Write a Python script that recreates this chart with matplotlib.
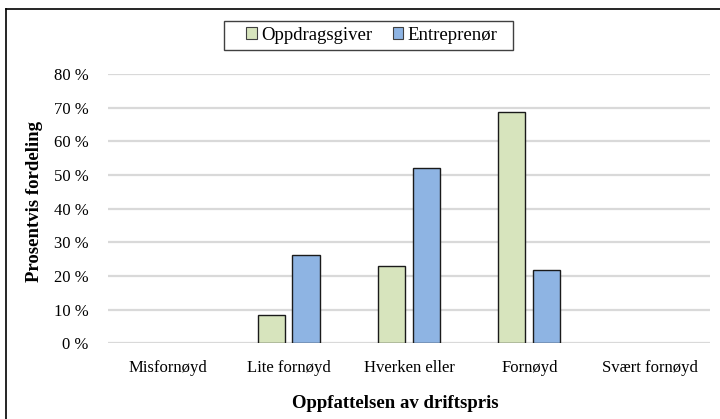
import numpy as np
import matplotlib.pyplot as plt
from matplotlib.lines import Line2D
from matplotlib.patches import Patch, Rectangle

plt.rcParams['font.family'] = ['Liberation Serif', 'DejaVu Serif']

categories = ['Misfornøyd', 'Lite fornøyd', 'Hverken eller', 'Fornøyd', 'Svært fornøyd']
oppdragsgiver = [0.0, 8.3, 22.9, 68.8, 0.0]
entreprenor = [0.0, 26.1, 52.2, 21.7, 0.0]
yticks = [0, 10, 20, 30, 40, 50, 60, 70, 80]

green = '#D7E4BD'
blue = '#8EB4E3'
edge = '#1a1a1a'

fig = plt.figure(figsize=(7.2, 4.19), dpi=100)
ax = fig.add_axes([0.15, 0.181, 0.836, 0.642])

x = np.arange(len(categories))
w = 0.225
# no outline on empty bars
lw_o = [1 if v > 0 else 0 for v in oppdragsgiver]
lw_e = [1 if v > 0 else 0 for v in entreprenor]
ax.bar(x - 0.145, oppdragsgiver, w, color=green, edgecolor=edge, linewidth=lw_o, zorder=3)
ax.bar(x + 0.145, entreprenor, w, color=blue, edgecolor=edge, linewidth=lw_e, zorder=3)

ax.set_xlim(-0.5, len(categories) - 0.5)
ax.set_ylim(0, 80)
ax.set_yticks(yticks)
ax.set_yticklabels(['{} %'.format(t) for t in yticks], fontsize=12)
ax.set_xticks(x)
ax.set_xticklabels(categories, fontsize=12)
ax.tick_params(axis='x', length=0, pad=12)
ax.tick_params(axis='y', length=0, pad=14)
ax.grid(axis='y', color='#D9D9D9', linewidth=1.6, zorder=0)
for s in ax.spines.values():
    s.set_visible(False)

ax.set_ylabel('Prosentvis fordeling', fontsize=13.5, fontweight='bold')
ax.yaxis.set_label_coords(35 / 720, 1 - 201 / 419, transform=fig.transFigure)
ax.set_xlabel('Oppfattelsen av driftspris', fontsize=13.5, fontweight='bold')
ax.xaxis.set_label_coords(395 / 720, 1 - 403 / 419, transform=fig.transFigure)
ax.xaxis.label.set_va('center')
ax.yaxis.label.set_va('center')

handles = [Patch(facecolor=green, edgecolor='#404040', linewidth=0.8, label='Oppdragsgiver'),
           Patch(facecolor=blue, edgecolor='#404040', linewidth=0.8, label='Entreprenør')]
ax.legend(handles=handles, loc='center', bbox_to_anchor=(372 / 720, 1 - 35 / 419),
          bbox_transform=fig.transFigure, ncol=2, fontsize=13.5, frameon=False,
          handlelength=0.55, handleheight=0.55, handletextpad=0.25,
          columnspacing=1.1, borderpad=0, borderaxespad=0)
# legend box drawn separately (wide horizontal padding)
fig.add_artist(Rectangle((224 / 720, 1 - 50 / 419), 289 / 720, 29 / 419,
                         transform=fig.transFigure, fill=False,
                         edgecolor='#404040', linewidth=1))

# frame lines from the cropped original chart border
fig.add_artist(Line2D([6 / 720, 1], [1 - 9 / 419, 1 - 9 / 419], color='black', linewidth=1.2))
fig.add_artist(Line2D([6 / 720, 6 / 720], [0, 1 - 9 / 419], color='black', linewidth=1.2))

fig.savefig('out.png', dpi=100)
